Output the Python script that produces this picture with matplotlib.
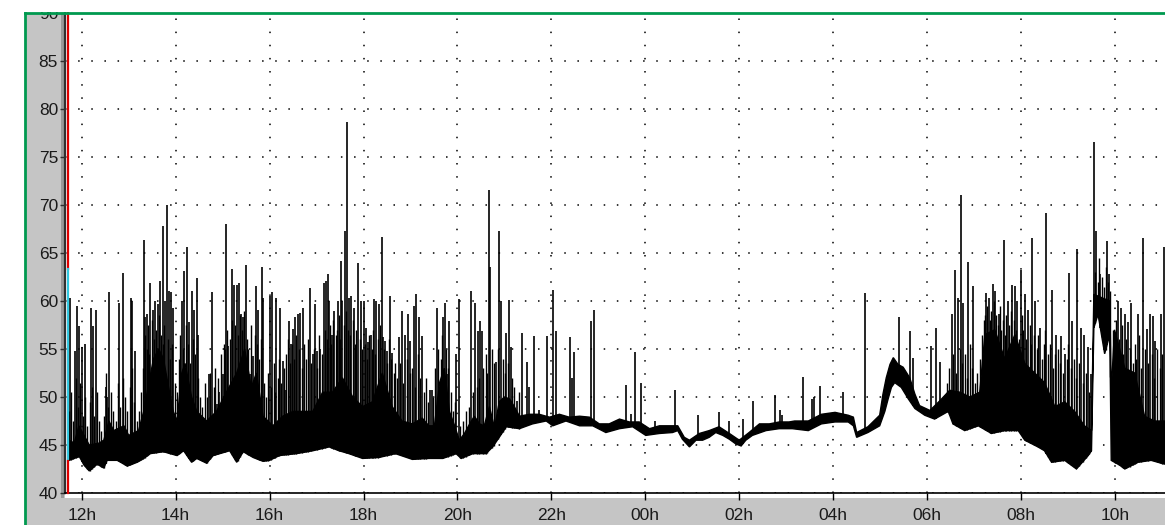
import numpy as np
import matplotlib.pyplot as plt
from matplotlib.patches import Rectangle
from matplotlib.lines import Line2D

# Sound level record, dB, hours counted from midnight of the first day
floor_t = [11.73, 11.95, 12.05, 12.16, 12.33, 12.47, 12.54, 12.76, 12.97, 13.18, 13.32, 13.46, 13.74,
           14.03, 14.17, 14.34, 14.45, 14.66, 14.80, 14.94, 15.15, 15.30, 15.44, 15.65, 15.86, 16.00,
           16.21, 16.57, 16.92, 17.27, 17.48, 17.69, 17.98, 18.33, 18.68, 19.04, 19.39,
           19.69, 19.97, 20.08, 20.33, 20.61, 20.75, 20.89, 21.04, 21.32, 21.60, 21.89,
           22.03, 22.31, 22.60, 22.88, 23.16, 23.45, 23.73, 24.01, 24.30, 24.58, 24.69,
           24.79, 24.94, 25.08, 25.22, 25.36, 25.50, 25.65, 25.79, 25.93, 26.04, 26.14,
           26.28, 26.57, 26.85, 27.13, 27.47, 27.75, 28.04, 28.32, 28.43, 28.50, 28.74,
           28.99, 29.10, 29.17, 29.24, 29.31, 29.45, 29.60, 29.74, 29.95, 30.16, 30.45,
           30.55, 30.80, 31.09, 31.37, 31.65, 31.94, 32.08, 32.36, 32.50, 32.65, 32.93,
           33.18, 33.43, 33.50, 33.55, 33.64, 33.78, 33.89, 33.92, 34.10, 34.21, 34.49,
           34.77, 35.06]
floor_db = [43.4, 43.8, 42.9, 42.3, 43.0, 42.6, 43.4, 43.4, 42.8, 43.2, 43.6, 44.1, 44.3,
            43.9, 44.4, 43.2, 43.6, 43.1, 43.9, 44.1, 44.4, 43.2, 44.3, 43.7, 43.3, 43.4,
            43.9, 44.1, 44.4, 44.8, 44.4, 44.1, 43.6, 43.7, 44.1, 43.5, 43.6,
            43.6, 44.1, 43.6, 44.1, 44.1, 44.8, 45.8, 46.9, 46.7, 47.2, 47.5,
            47.0, 47.5, 47.0, 47.0, 46.3, 46.7, 46.9, 46.0, 46.2, 46.3, 46.5,
            45.6, 44.8, 45.5, 45.5, 45.8, 46.3, 46.0, 45.6, 45.1, 44.9, 45.5,
            46.0, 46.5, 46.7, 46.7, 46.5, 47.2, 47.4, 47.4, 47.0, 45.8, 46.3,
            47.0, 48.5, 49.8, 51.0, 51.5, 51.0, 49.8, 48.8, 48.1, 47.7, 48.5,
            47.2, 46.5, 47.0, 46.2, 46.5, 46.5, 45.5, 44.8, 44.4, 43.2, 43.4,
            42.5, 43.9, 44.4, 57.2, 58.6, 54.5, 56.5, 43.4, 42.9, 42.5, 43.2,
            43.4, 43.0]

body_t = [11.73, 11.84, 11.94, 12.05, 12.16, 12.37, 12.47, 12.58, 12.68, 12.90, 13.00,
          13.21, 13.32, 13.43, 13.53, 13.64, 13.74, 13.85, 13.95, 14.03, 14.13, 14.20,
          14.34, 14.45, 14.66, 14.87, 15.08, 15.30, 15.47, 15.61, 15.72, 15.86, 16.07,
          16.28, 16.50, 16.92, 17.13, 17.34, 17.55, 17.77, 17.98, 18.19, 18.40, 18.61,
          18.82, 19.04, 19.25, 19.39, 19.51, 19.62, 19.72, 19.83, 19.94, 20.04, 20.15,
          20.26, 20.36, 20.47, 20.57, 20.68, 20.79, 20.89, 21.00, 21.11, 21.21, 21.32,
          21.53, 21.74, 21.96, 22.17, 22.38, 22.60, 22.81, 23.02, 23.23, 23.45, 23.66,
          23.87, 24.09, 24.30, 24.51, 24.69, 24.83, 24.94, 25.15, 25.36, 25.57, 25.79,
          26.00, 26.21, 26.43, 26.64, 26.85, 27.06, 27.18, 27.47, 27.75, 28.04, 28.32,
          28.43, 28.50, 28.74, 28.99, 29.06, 29.13, 29.21, 29.28, 29.38, 29.49, 29.63,
          29.74, 29.84, 30.06, 30.27, 30.48, 30.70, 30.91, 31.12, 31.23, 31.44, 31.65,
          31.87, 32.08, 32.29, 32.50, 32.72, 32.93, 33.14, 33.35, 33.50, 33.55, 33.74,
          33.89, 33.92, 33.99, 34.21, 34.42, 34.63, 34.84, 35.06]
body_db = [45.5, 45.2, 47.0, 46.0, 45.0, 45.2, 45.5, 47.5, 46.5, 47.0, 46.0,
           46.5, 48.5, 51.5, 54.0, 55.0, 54.0, 51.0, 48.5, 47.5, 52.5, 53.5,
           50.0, 48.5, 47.5, 48.5, 50.5, 52.5, 55.0, 51.0, 52.5, 48.0, 47.0,
           48.0, 48.5, 48.5, 50.5, 50.5, 52.0, 50.0, 49.0, 49.5, 52.5, 49.0,
           47.5, 47.2, 47.8, 47.0, 47.0, 51.5, 53.0, 48.5, 47.0, 45.5, 46.2,
           47.2, 48.0, 47.2, 47.0, 49.0, 46.8, 49.5, 50.0, 49.8, 49.0, 48.0,
           48.2, 48.2, 47.9, 48.2, 47.9, 48.0, 47.9, 47.2, 47.2, 47.7, 47.4,
           47.4, 46.7, 47.0, 47.0, 47.0, 45.8, 45.5, 46.2, 46.5, 46.9, 46.2,
           45.5, 46.3, 47.2, 47.2, 47.4, 47.4, 47.5, 47.5, 48.2, 48.4, 48.1,
           47.9, 46.3, 46.9, 48.1, 50.3, 52.0, 53.4, 54.1, 53.4, 53.1, 52.0,
           50.3, 49.1, 48.6, 49.6, 50.7, 50.5, 50.0, 50.5, 56.5, 57.0, 54.0,
           56.5, 53.5, 52.5, 51.5, 49.0, 49.5, 48.5, 47.0, 46.5, 60.7, 60.3,
           60.0, 50.5, 57.0, 53.0, 52.5, 48.0, 47.5, 47.5]

# isolated peaks (passing vehicles etc.): time and peak level
spike_t = [11.75, 11.85, 11.91, 11.94, 12.01, 12.07, 12.19, 12.25, 12.30, 12.51, 12.54,
           12.59, 12.79, 12.88, 13.04, 13.07, 13.13, 13.32, 13.35, 13.40, 13.46, 13.52,
           13.57, 13.62, 13.67, 13.74, 13.78, 13.81, 13.85, 13.90, 13.95, 14.13, 14.18,
           14.24, 14.29, 14.34, 14.40, 14.45, 14.48, 14.71, 14.78, 14.87, 14.93, 15.00,
           15.08, 15.12, 15.19, 15.24, 15.30, 15.35, 15.40, 15.44, 15.49, 15.58, 15.65,
           15.71, 15.75, 15.83, 15.86, 16.00, 16.06, 16.14, 16.23, 16.28, 16.34, 16.41,
           16.46, 16.50, 16.54, 16.60, 16.65, 16.71, 16.86, 16.92, 16.97, 17.02, 17.08,
           17.15, 17.20, 17.24, 17.27, 17.33, 17.38, 17.45, 17.52, 17.55, 17.61, 17.65,
           17.70, 17.74, 17.79, 17.89, 17.94, 18.01, 18.06, 18.10, 18.15, 18.22, 18.27,
           18.33, 18.39, 18.42, 18.46, 18.51, 18.56, 18.61, 18.75, 18.82, 18.89, 18.95,
           19.00, 19.07, 19.12, 19.18, 19.25, 19.42, 19.46, 19.56, 19.63, 19.70, 19.73,
           19.77, 19.83, 19.97, 20.03, 20.29, 20.38, 20.43, 20.49, 20.52, 20.68, 20.70,
           20.82, 20.89, 20.93, 21.04, 21.09, 21.13, 21.26, 21.38, 21.48, 21.53, 21.62,
           21.74, 21.90, 22.04, 22.09, 22.40, 22.44, 22.49, 22.84, 22.90, 23.59, 23.70,
           23.78, 23.91, 24.21, 24.64, 25.13, 25.56, 25.79, 26.07, 26.30, 26.77, 26.87,
           26.92, 27.36, 27.55, 27.60, 27.72, 28.21, 28.67, 29.40, 29.63, 29.70, 30.08,
           30.18, 30.28, 30.52, 30.59, 30.66, 30.72, 30.77, 30.87, 30.98, 31.26, 31.31,
           31.40, 31.44, 31.52, 31.63, 31.72, 31.81, 31.87, 31.92, 31.99, 32.08, 32.15,
           32.24, 32.30, 32.40, 32.54, 32.65, 32.75, 32.86, 32.93, 33.02, 33.09, 33.20,
           33.28, 33.35, 33.43, 33.48, 33.55, 33.60, 33.69, 33.83, 33.88, 33.98, 34.06,
           34.12, 34.21, 34.28, 34.35, 34.49, 34.60, 34.68, 34.74, 34.81, 34.86, 34.99,
           35.04]
spike_db = [60.3, 54.8, 59.5, 57.4, 55.2, 55.5, 59.3, 57.4, 59.1, 51.0, 50.0,
            60.9, 59.8, 62.9, 60.3, 60.0, 54.8, 66.4, 58.3, 58.6, 61.9, 59.1,
            60.0, 59.7, 62.1, 67.8, 60.0, 70.0, 61.0, 60.9, 59.3, 60.0, 63.1,
            65.6, 57.8, 61.0, 59.1, 62.4, 56.5, 52.4, 60.9, 49.3, 50.5, 52.4,
            68.0, 55.3, 63.3, 61.7, 61.7, 61.9, 58.6, 58.3, 63.8, 52.4, 54.3,
            61.6, 59.1, 63.5, 60.3, 60.5, 60.9, 60.3, 59.3, 53.8, 50.7, 57.9,
            55.5, 57.1, 58.3, 58.6, 58.8, 59.3, 61.4, 54.5, 59.7, 54.8, 55.0,
            61.9, 62.1, 62.8, 60.0, 56.5, 59.0, 60.0, 64.2, 60.0, 67.3, 78.6,
            60.3, 60.5, 59.3, 64.0, 60.0, 60.0, 57.2, 55.7, 56.5, 60.2, 60.0,
            59.7, 66.7, 56.2, 55.8, 54.8, 60.5, 54.6, 56.2, 59.0, 56.5, 58.6,
            55.8, 59.5, 60.7, 58.3, 56.4, 50.7, 50.7, 59.3, 50.5, 58.3, 59.8,
            52.4, 57.9, 54.5, 60.2, 61.0, 59.8, 56.9, 57.9, 56.9, 71.6, 63.5,
            53.6, 67.3, 60.0, 56.7, 60.1, 55.2, 49.6, 56.7, 53.6, 51.0, 56.4,
            48.6, 56.4, 61.1, 56.9, 56.3, 52.0, 54.7, 57.9, 59.1, 51.2, 48.2,
            54.7, 51.5, 47.5, 50.7, 48.1, 48.4, 47.5, 47.7, 49.6, 50.2, 48.6,
            48.1, 52.1, 49.8, 50.0, 51.1, 50.5, 60.8, 58.3, 56.9, 54.1, 55.3,
            57.2, 53.6, 58.6, 63.2, 60.3, 71.0, 59.8, 64.1, 61.6, 60.8, 60.3,
            61.8, 61.0, 58.6, 66.4, 60.0, 61.7, 61.6, 60.0, 63.2, 60.7, 59.1,
            66.6, 60.0, 57.2, 69.2, 61.1, 56.5, 56.4, 54.5, 62.9, 57.9, 65.4,
            57.2, 56.5, 55.2, 52.4, 76.6, 67.3, 62.8, 66.2, 62.8, 56.9, 60.0,
            59.3, 58.6, 57.8, 59.8, 58.6, 66.6, 57.1, 58.6, 58.4, 55.8, 58.6,
            65.6]

# smaller, closely packed peaks in the busy periods
minor_t = [11.72, 11.77, 11.82, 11.87, 11.92, 11.97, 12.02, 12.07, 12.12, 12.17, 12.22, 12.27,
           12.32, 12.37, 12.42, 12.47, 12.52, 12.57, 12.62, 12.67, 12.72, 12.77, 12.82, 12.87,
           12.92, 12.97, 13.02, 13.07, 13.12, 13.17, 13.22, 13.27, 13.30, 13.34, 13.38, 13.42,
           13.44, 13.49, 13.54, 13.59, 13.64, 13.69, 13.72, 13.76, 13.83, 13.88, 13.93, 13.98,
           14.02, 14.07, 14.10, 14.15, 14.21, 14.26, 14.31, 14.37, 14.42, 14.47, 14.52, 14.57,
           14.62, 14.67, 14.74, 14.81, 14.84, 14.90, 14.96, 15.03, 15.05, 15.10, 15.15, 15.21,
           15.27, 15.32, 15.37, 15.42, 15.46, 15.52, 15.55, 15.61, 15.68, 15.73, 15.78, 15.81,
           15.89, 15.93, 15.97, 16.03, 16.09, 16.12, 16.17, 16.20, 16.25, 16.31, 16.36, 16.39,
           16.43, 16.48, 16.52, 16.57, 16.62, 16.68, 16.74, 16.78, 16.82, 16.89, 16.95, 17.00,
           17.05, 17.11, 17.17, 17.22, 17.29, 17.31, 17.36, 17.41, 17.43, 17.48, 17.50, 17.58,
           17.63, 17.67, 17.72, 17.77, 17.82, 17.85, 17.92, 17.97, 18.03, 18.08, 18.12, 18.18,
           18.20, 18.25, 18.30, 18.36, 18.44, 18.49, 18.54, 18.58, 18.64, 18.68, 18.72, 18.78,
           18.85, 18.92, 18.98, 19.03, 19.10, 19.15, 19.21, 19.28, 19.33, 19.38, 19.49, 19.53,
           19.59, 19.66, 19.68, 19.75, 19.80, 19.86, 19.91, 19.95, 20.06, 20.12, 20.18, 20.24,
           20.33, 20.41, 20.46, 20.55, 20.60, 20.63, 20.73, 20.77, 20.86, 20.97, 21.01, 21.07,
           21.17, 21.21, 21.30, 30.42, 30.47, 30.55, 30.62, 30.69, 30.75, 30.81, 30.84, 30.92,
           30.95, 31.02, 31.07, 31.12, 31.17, 31.21, 31.24, 31.28, 31.34, 31.37, 31.42, 31.47,
           31.50, 31.55, 31.58, 31.61, 31.66, 31.69, 31.75, 31.78, 31.84, 31.89, 31.95, 32.02,
           32.05, 32.11, 32.18, 32.21, 32.27, 32.33, 32.37, 32.44, 32.48, 32.51, 32.58, 32.62,
           32.69, 32.72, 32.79, 32.83, 32.90, 32.97, 33.00, 33.06, 33.12, 33.16, 33.24, 33.31,
           33.38, 33.45, 33.58, 33.63, 33.66, 33.72, 33.76, 33.80, 33.86, 33.90, 33.95, 34.01,
           34.03, 34.09, 34.15, 34.18, 34.24, 34.31, 34.38, 34.42, 34.45, 34.52, 34.56, 34.64,
           34.71, 34.78, 34.84, 34.90, 34.95, 35.01]
minor_db = [48.5, 50.5, 47.5, 52.0, 49.0, 51.5, 48.0, 50.0, 47.0, 49.5, 51.0, 48.0,
            50.5, 47.5, 46.5, 48.0, 52.5, 49.0, 50.5, 48.5, 47.5, 51.5, 49.0, 52.0,
            50.0, 48.5, 51.0, 53.0, 49.5, 47.5, 48.5, 50.5, 53.0, 56.5, 55.0, 57.5,
            54.5, 58.0, 56.0, 57.0, 58.5, 56.5, 55.5, 57.5, 56.0, 54.0, 55.5, 51.5,
            50.5, 54.0, 56.5, 55.0, 57.5, 55.5, 53.5, 56.0, 54.5, 52.0, 50.0, 49.0,
            51.5, 50.0, 52.5, 51.0, 53.0, 52.0, 54.5, 55.5, 55.0, 57.0, 56.0, 58.0,
            57.5, 56.5, 58.5, 57.0, 59.0, 56.0, 55.0, 57.5, 56.5, 55.5, 54.0, 56.0,
            51.5, 50.0, 52.5, 51.0, 53.5, 50.5, 52.0, 54.0, 51.5, 53.0, 54.5, 56.0,
            53.5, 55.5, 54.0, 56.5, 55.0, 53.0, 55.5, 54.0, 56.0, 53.5, 55.0, 53.0,
            56.5, 54.5, 57.0, 56.0, 57.5, 55.5, 58.0, 56.5, 57.0, 58.5, 56.0, 57.5,
            59.0, 57.0, 56.5, 58.0, 55.5, 57.0, 56.0, 55.0, 55.5, 54.0, 56.5, 55.0,
            57.0, 54.5, 56.0, 57.5, 55.0, 53.5, 56.0, 54.0, 52.5, 53.5, 52.0, 53.5,
            51.5, 54.0, 52.5, 53.0, 51.0, 54.5, 52.0, 50.5, 52.0, 49.5, 50.0, 53.0,
            55.0, 54.0, 56.5, 55.0, 53.0, 50.5, 48.5, 49.5, 47.0, 47.5, 48.5, 49.0,
            50.5, 51.0, 52.0, 53.0, 54.5, 52.5, 55.0, 53.5, 55.0, 54.0, 52.5, 53.5,
            52.0, 51.0, 50.5, 51.5, 53.0, 54.5, 52.5, 55.0, 53.5, 54.5, 52.0, 55.5,
            53.0, 51.5, 52.5, 54.0, 56.5, 58.0, 58.5, 59.5, 58.0, 59.0, 60.0, 58.5,
            57.5, 59.5, 57.0, 58.0, 56.5, 58.5, 57.5, 59.0, 58.0, 57.0, 56.0, 58.5,
            57.0, 56.0, 57.5, 55.5, 56.5, 55.0, 56.5, 54.0, 55.5, 57.0, 54.5, 55.5,
            53.0, 54.5, 55.0, 53.5, 52.5, 54.0, 55.5, 53.0, 54.0, 52.0, 53.5, 51.5,
            52.5, 50.5, 63.0, 62.0, 64.5, 62.5, 61.5, 63.5, 62.0, 61.0, 57.0, 55.5,
            58.0, 56.0, 57.5, 54.5, 56.0, 55.0, 53.5, 55.5, 54.0, 56.5, 53.0, 55.0,
            53.5, 54.5, 52.0, 55.0, 53.0, 54.5]

hour_ticks = [12, 14, 16, 18, 20, 22, 24, 26, 28, 30, 32, 34]
hour_labels = ['12h', '14h', '16h', '18h', '20h', '22h', '00h', '02h', '04h', '06h', '08h', '10h']
db_ticks = [40, 45, 50, 55, 60, 65, 70, 75, 80, 85, 90]
cursor_lo, cursor_hi = 43.3, 63.3

W, H = 1165, 525
fig = plt.figure(figsize=(W / 100, H / 100), dpi=100)
fig.patch.set_facecolor('white')

# grey panels behind the axis labels
panel = '#c5c5c5'
fig.add_artist(Rectangle((25 / W, 0), 40 / W, 1 - 13 / H, transform=fig.transFigure,
                         facecolor=panel, edgecolor='none', zorder=-2))
fig.add_artist(Rectangle((25 / W, 0), 1 - 25 / W, 27 / H, transform=fig.transFigure,
                         facecolor=panel, edgecolor='none', zorder=-2))
fig.add_artist(Rectangle((61 / W, 27 / H), 3 / W, 1 - 40 / H, transform=fig.transFigure,
                         facecolor='#9a9a9a', edgecolor='none', zorder=-1))

ax = fig.add_axes([65 / W, 1 - 493 / H, 1 - 65 / W, 480 / H])
ax.set_xlim(11.644, 35.065)
ax.set_ylim(40, 90)

ax.grid(True, color='black', linestyle=(0, (1, 7.6)), linewidth=1.1, zorder=0)
ax.set_axisbelow(True)

# level trace: dense band between floor and body top, plus the peaks
poly_t = np.r_[body_t, floor_t[::-1]]
poly_db = np.r_[body_db, floor_db[::-1]]
ax.fill(poly_t, poly_db, facecolor='black', edgecolor='black', linewidth=1.0, zorder=3)
minor_base = np.interp(minor_t, floor_t, floor_db)
ax.vlines(minor_t, minor_base, minor_db, color='black', linewidth=1.0, zorder=3)
spike_base = np.interp(spike_t, floor_t, floor_db)
ax.vlines(spike_t, spike_base, spike_db, color='black', linewidth=1.2, zorder=3)

# cursor bar at the left edge
ytr = ax.get_yaxis_transform()
ax.plot([0.0023, 0.0023], [cursor_hi, 90], color='#e00000', lw=1.6, transform=ytr, zorder=4, clip_on=False)
ax.plot([0.0023, 0.0023], [cursor_lo, cursor_hi], color='#33c8e0', lw=1.6, transform=ytr, zorder=4, clip_on=False)
ax.plot([0.0023, 0.0023], [40, cursor_lo], color='#e00000', lw=1.6, transform=ytr, zorder=4, clip_on=False)

ax.set_xticks(hour_ticks)
ax.set_xticklabels(hour_labels)
ax.set_yticks(db_ticks)
for s in ('top', 'right'):
    ax.spines[s].set_visible(False)
ax.spines['left'].set_color('#303030')
ax.spines['left'].set_linewidth(1.6)
ax.spines['bottom'].set_color('black')
ax.spines['bottom'].set_linewidth(1.2)
ax.tick_params(axis='y', direction='out', length=3.5, width=1.0, color='#303030',
               pad=1.5, labelsize=12.5, labelcolor='#1a1a1a')
ax.tick_params(axis='x', direction='out', length=5, width=1.0, color='black',
               pad=6, labelsize=12.5, labelcolor='#1a1a1a')
for lab in ax.get_xticklabels() + ax.get_yticklabels():
    lab.set_fontfamily('Liberation Sans')

# white margin above the frame and the green frame itself
fig.add_artist(Rectangle((0, 1 - 12 / H), 1, 12 / H, transform=fig.transFigure,
                         facecolor='white', edgecolor='none', zorder=5))
green = '#00994f'
fig.add_artist(Line2D([25 / W, 25 / W], [0, 1 - 13 / H], transform=fig.transFigure,
                      color=green, lw=2.0, zorder=6))
fig.add_artist(Line2D([25 / W, 1], [1 - 13 / H, 1 - 13 / H], transform=fig.transFigure,
                      color=green, lw=2.0, zorder=6))

fig.savefig('out.png', dpi=100)
